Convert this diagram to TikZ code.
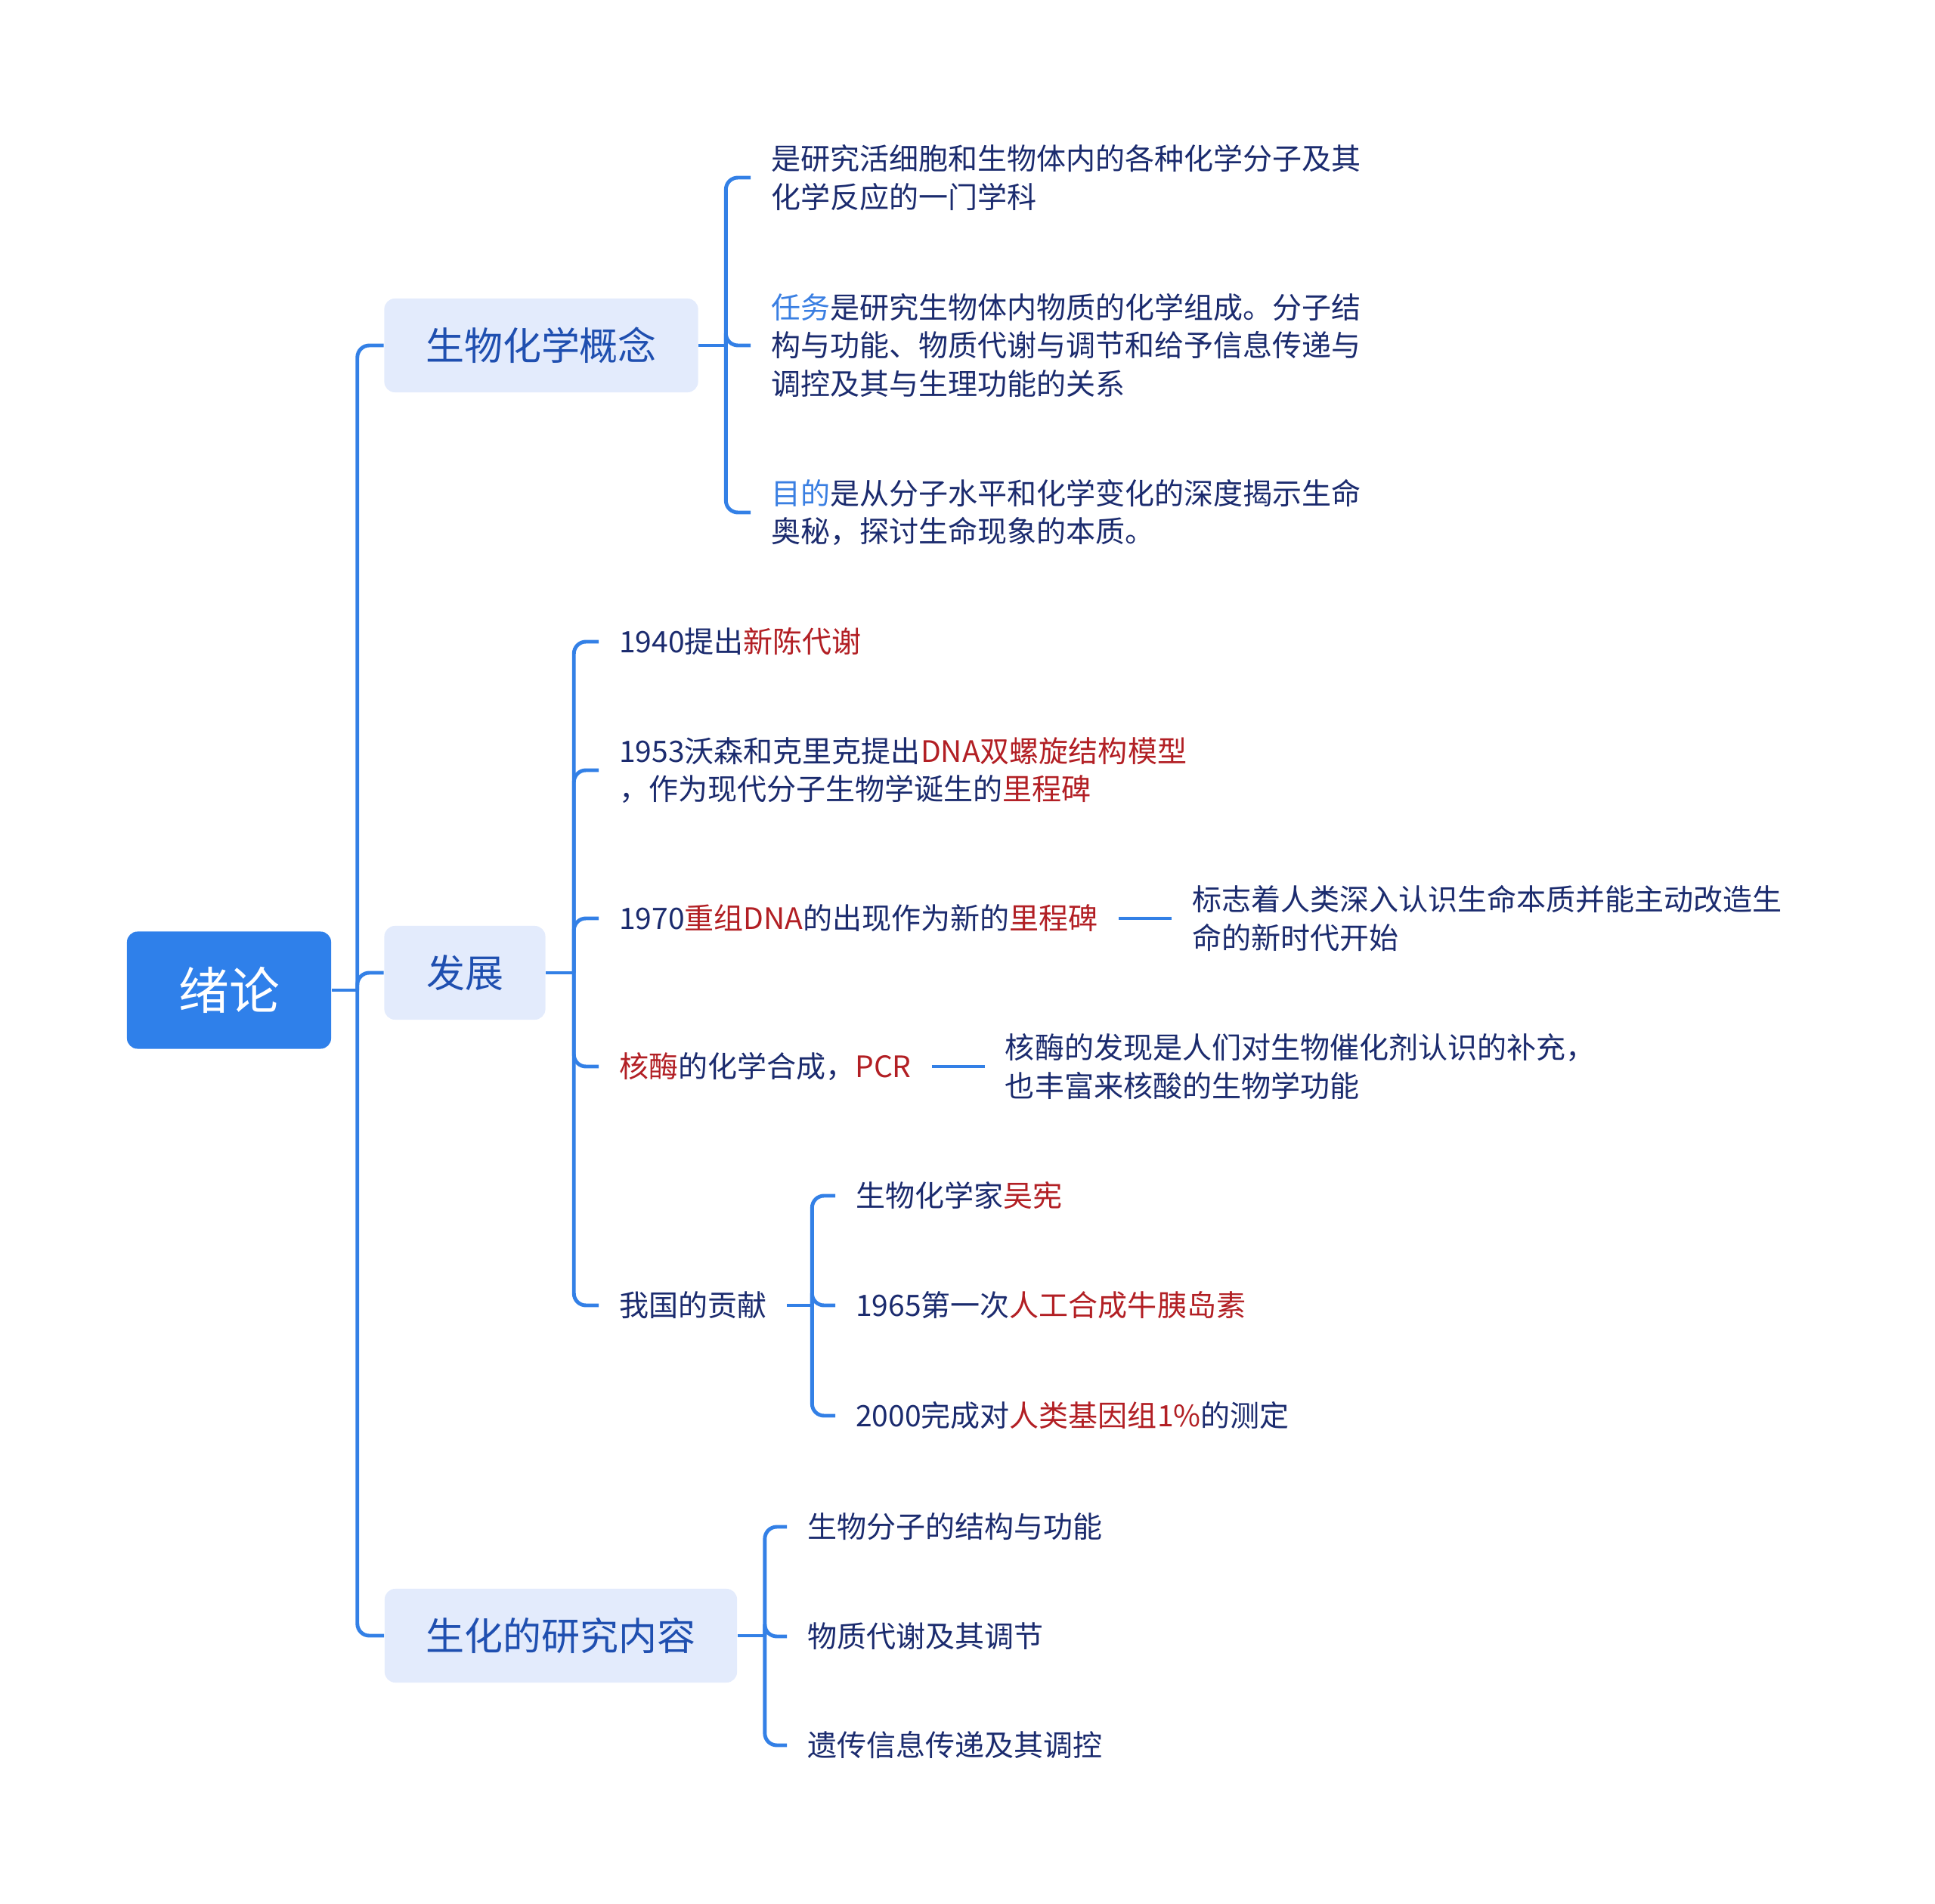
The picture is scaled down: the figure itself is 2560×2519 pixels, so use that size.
\documentclass[tikz,border=0pt]{standalone}
\usepackage{fontspec}
\setmainfont{Noto Sans CJK SC}
\usetikzlibrary{positioning}

\definecolor{linkblue}{HTML}{3380E6}
\definecolor{rootblue}{HTML}{2F80EA}
\definecolor{boxfill}{HTML}{E3EBFC}
\definecolor{boxtext}{HTML}{1F4FB0}
\definecolor{leaftext}{HTML}{1B2B6E}
\definecolor{hlred}{HTML}{B21F24}
\definecolor{hlblue}{HTML}{3A7FE2}

\newcommand{\hred}[1]{\textcolor{hlred}{#1}}
\newcommand{\hblue}[1]{\textcolor{hlblue}{#1}}

\tikzset{
  rootbox/.style={fill=rootblue, rounded corners=4pt, text=white, minimum width=2.7cm, minimum height=1.55cm, font=\fontsize{19}{23}\selectfont},
  topicbox/.style={fill=boxfill, rounded corners=4pt, text=boxtext, minimum height=1.24cm, font=\fontsize{14.5}{18}\selectfont},
  leaf/.style={anchor=west, align=left, text=leaftext, inner xsep=7.5pt, font=\fontsize{11.1}{14.4}\selectfont},
  link/.style={draw=linkblue, line width=1.4pt, rounded corners=4.5pt},
}

\begin{document}
\begin{tikzpicture}[x=0.01cm, y=-0.01cm]
      \useasboundingbox (0,0) rectangle (2560,2519);

      % Root and first level
      \node[rootbox] (root) at (303,1310) {绪论};
      \node[topicbox, minimum width=4.15cm] (concept) at (716,457) {生物化学概念};
      \node[topicbox, minimum width=2.13cm] (fazhan) at (615,1287) {发展};
      \node[topicbox, minimum width=4.66cm] (yanjiu) at (742,2164) {生化的研究内容};

      % Concept
      \node[leaf] (c1) at (993,235) {是研究活细胞和生物体内的各种化学分子及其\\化学反应的一门学科};
      \node[leaf] (c2) at (993,457) {\hblue{任务}是研究生物体内物质的化学组成。分子结\\构与功能、物质代谢与调节和给予信息传递与\\调控及其与生理功能的关系};
      \node[leaf] (c3) at (993,678) {\hblue{目的}是从分子水平和化学变化的深度揭示生命\\奥秘，探讨生命现象的本质。};

      % Development
      \node[leaf] (d1) at (792,849) {1940提出\hred{新陈代谢}};
      \node[leaf] (d2) at (792,1019) {1953沃森和克里克提出\hred{DNA双螺旋结构模型}\\，作为现代分子生物学诞生的\hred{里程碑}};
      \node[leaf] (d3) at (792,1215) {1970\hred{重组DNA}的出现作为新的\hred{里程碑}};
      \node[leaf, right=0.7cm of d3] (d3a) {标志着人类深入认识生命本质并能主动改造生\\命的新时代开始};
      \node[leaf] (d4) at (792,1411) {\hred{核酶}的化学合成，\hred{PCR}};
      \node[leaf, right=0.7cm of d4] (d4a) {核酶的发现是人们对生物催化剂认识的补充，\\也丰富来核酸的生物学功能};
      \node[leaf] (d5) at (792,1727) {我国的贡献};
      \node[leaf] (e1) at (1105,1582) {生物化学家\hred{吴宪}};
      \node[leaf] (e2) at (1105,1727) {1965第一次\hred{人工合成牛胰岛素}};
      \node[leaf] (e3) at (1105,1873) {2000完成对\hred{人类基因组1\%}的测定};

      % Research content
      \node[leaf] (f1) at (1041,2020) {生物分子的结构与功能};
      \node[leaf] (f2) at (1041,2165) {物质代谢及其调节};
      \node[leaf] (f3) at (1041,2309) {遗传信息传递及其调控};

      % Connectors
      \path (root.east) ++(34,0) coordinate (rj);
      \draw[link] (root.east) -- (rj);
      \foreach \n in {concept,fazhan,yanjiu} \draw[link] (rj) |- (\n.west);

      \path (concept.east) ++(36,0) coordinate (cj);
      \draw[link] (concept.east) -- (cj);
      \foreach \n in {c1,c2,c3} \draw[link] (cj) |- (\n.west);

      \path (fazhan.east) ++(37,0) coordinate (dj);
      \draw[link] (fazhan.east) -- (dj);
      \foreach \n in {d1,d2,d3,d4,d5} \draw[link] (dj) |- (\n.west);
      \draw[link] (d3) -- (d3a);
      \draw[link] (d4) -- (d4a);

      \path (d5.east) ++(33,0) coordinate (ej);
      \draw[link] (d5.east) -- (ej);
      \foreach \n in {e1,e2,e3} \draw[link] (ej) |- (\n.west);

      \path (yanjiu.east) ++(36,0) coordinate (fj);
      \draw[link] (yanjiu.east) -- (fj);
      \foreach \n in {f1,f2,f3} \draw[link] (fj) |- (\n.west);
  \end{tikzpicture}
\end{document}
